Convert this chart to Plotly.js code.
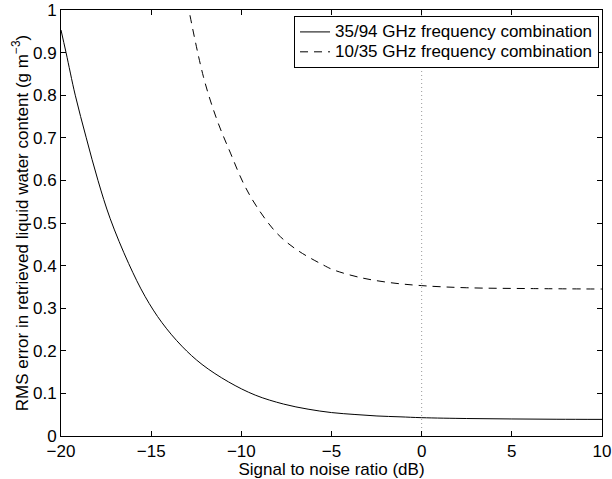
<!DOCTYPE html>
<html>
<head>
<meta charset="utf-8">
<script src="https://cdn.plot.ly/plotly-3.0.1.min.js"></script>
<style>html,body{margin:0;padding:0;background:#fff;}#chart{width:612px;height:479px;}</style>
</head>
<body>
<div id="chart"></div>
<script>
// Signal to noise ratio (dB) and RMS error (g m^-3)
const snr3594 = [-20, -19.72, -19.21, -18.6, -17.95, -17.27, -16.25, -15.33, -14.4, -13.3, -12.18, -10.71, -9.23, -7.66, -6.3, -5, -3.7, -2.48, -1.2, 0, 2.5, 5, 7.5, 10];
const err3594 = [0.953, 0.9, 0.8, 0.7, 0.6, 0.51, 0.405, 0.327, 0.266, 0.211, 0.168, 0.127, 0.096, 0.075, 0.063, 0.055, 0.0505, 0.047, 0.045, 0.043, 0.041, 0.040, 0.0393, 0.039];
const snr1035 = [-13.0, -12.1, -11.35, -10.6, -9.88, -9.14, -8.03, -6.92, -5.44, -4.89, -3.41, -1.75, 0, 2.5, 6.2, 10];
const err1035 = [1.02, 0.843, 0.742, 0.664, 0.593, 0.538, 0.476, 0.437, 0.401, 0.39, 0.372, 0.36, 0.353, 0.348, 0.346, 0.345];
const refX = [0, 0];
const refY = [0, 1];
const seriesNames = ['35/94 GHz frequency combination', '10/35 GHz frequency combination'];
const xTicks = [-20, -15, -10, -5, 0, 5, 10];

const font = 'Liberation Sans, Arial, Helvetica, sans-serif';
const big = s => '<span style="font-size:17px">' + s + '</span>';

const traces = [
  {x: refX, y: refY, mode: 'lines', showlegend: false, hoverinfo: 'skip',
   line: {color: '#999', width: 1, dash: '1px,3px'}},
  {x: snr3594, y: err3594, name: big(seriesNames[0]), mode: 'lines',
   line: {color: '#000', width: 1, shape: 'spline', smoothing: 1}},
  {x: snr1035, y: err1035, name: big(seriesNames[1]), mode: 'lines',
   line: {color: '#000', width: 1, dash: '8px,6px', shape: 'spline', smoothing: 1}}
];

const axisCommon = {
  showgrid: false, zeroline: false, showline: true, linecolor: '#000', linewidth: 1,
  mirror: 'ticks', ticks: 'inside', ticklen: 5, tickwidth: 1, tickcolor: '#000',
  tickfont: {family: font, size: 17, color: '#000'}
};

const layout = {
  width: 612, height: 479,
  margin: {l: 61, r: 10, t: 10, b: 43},
  paper_bgcolor: '#fff', plot_bgcolor: '#fff',
  font: {family: font, size: 17, color: '#000'},
  xaxis: Object.assign({}, axisCommon, {
    range: [-20, 10], tickvals: xTicks,
    title: {text: 'Signal to noise ratio (dB)', font: {family: font, size: 17}, standoff: 0}
  }),
  yaxis: Object.assign({}, axisCommon, {
    range: [0, 1], dtick: 0.1, tick0: 0,
    title: {text: 'RMS error in retrieved liquid water content (g m<sup>\u22123</sup>)', font: {family: font, size: 17}, standoff: 0}
  }),
  legend: {
    x: 0.9945, xanchor: 'right', y: 0.986, yanchor: 'top',
    bgcolor: '#fff', bordercolor: '#000', borderwidth: 1,
    font: {family: font, size: 13, color: '#000'},
    tracegroupgap: 0, itemwidth: 30
  },
  showlegend: true
};

Plotly.newPlot('chart', traces, layout, {staticPlot: true, displayModeBar: false});
</script>
</body>
</html>
